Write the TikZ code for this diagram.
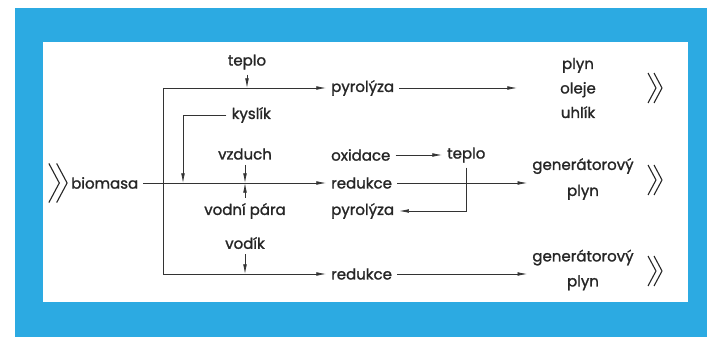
\documentclass[tikz,border=0pt]{standalone}
\usepackage{fontspec}
\setmainfont{Poppins}[FakeBold=1.3]
\usetikzlibrary{positioning, arrows.meta}
\definecolor{frameblue}{RGB}{44,170,226}

\begin{document}
\begin{tikzpicture}[x=1pt, y=-1pt,
  lbl/.style={font=\fontsize{15}{26}\selectfont, inner sep=5pt, text=black!85},
  ln/.style={line width=0.7pt, draw=black!80},
  arr/.style={-{Latex[length=3.4mm,width=1.3mm]}},
  chev/.pic={\draw[line width=1.1pt, black!85] (-7,-15) -- (1,0) -- (-7,15) (-1,-15) -- (7,0) -- (-1,15);}]
% frame
\fill[white] (0,0) rectangle (707,339);
\fill[frameblue] (15,8) rectangle (707,337);
\fill[white] (43,42) rectangle (688,302);

\node[lbl] (teploA) at (247,62) {teplo};
\node[lbl, anchor=west] (pyrA) at (326,88) {pyrolýza};
\node[lbl, align=center] (prod) at (578,88) {plyn\\[-1.5pt]oleje\\[-1.5pt]uhlík};
\node[lbl, anchor=east] (kyslik) at (276,115) {kyslík};
\node[lbl] (vzduch) at (245,154) {vzduch};
\node[lbl, anchor=west] (biomasa) at (66,183) {biomasa};
\node[lbl] (vodnipara) at (245,211) {vodní pára};
\node[lbl] (vodik) at (245,243) {vodík};
\node[lbl, anchor=west] (oxidace) at (326,155) {oxidace};
\node[lbl, anchor=west] (teploB) at (442,155) {teplo};
\node[lbl, anchor=west] (redB) at (326,183) {redukce};
\node[lbl, anchor=west] (pyrB) at (326,211) {pyrolýza};
\node[lbl, align=center] (genB) at (583,179) {generátorový\\plyn};
\node[lbl, align=center] (genC) at (583,270) {generátorový\\[-1pt]plyn};
\node[lbl, anchor=west] (redC) at (326,274) {redukce};

\coordinate (cTop) at (163,88);
\coordinate (cBot) at (163,274);
\coordinate (cKys) at (183,183);

% chevrons
\pic[scale=1.3] at (58,183) {chev};
\pic at (655,88) {chev};
\pic at (655,180) {chev};
\pic at (655,271) {chev};

% flows
\draw[ln, arr] (biomasa.east) -- (redB.west);
\draw[ln] (cTop) -- (cBot);
\draw[ln, arr] (cTop) -- (pyrA.west);
\draw[ln, arr] (cBot) -- (redC.west);
\draw[ln, arr] (teploA) -- (teploA |- cTop);
\draw[ln, arr] (kyslik.west) -| (cKys);
\draw[ln, arr] (vzduch) -- (vzduch |- biomasa);
\draw[ln, arr] (vodnipara) -- (vodnipara |- biomasa);
\draw[ln, arr] (vodik) -- (vodik |- cBot);
\draw[ln, arr] (pyrA) -- (prod.west |- pyrA) [shorten >=38pt];
\draw[ln, arr] (oxidace) -- (teploB);
\draw[ln, arr] (teploB.south) |- (pyrB.east);
\draw[ln, arr] (redB) -- (genB.west |- redB);
\draw[ln, arr] (redC) -- (genC.west |- redC);
\end{tikzpicture}
\end{document}
